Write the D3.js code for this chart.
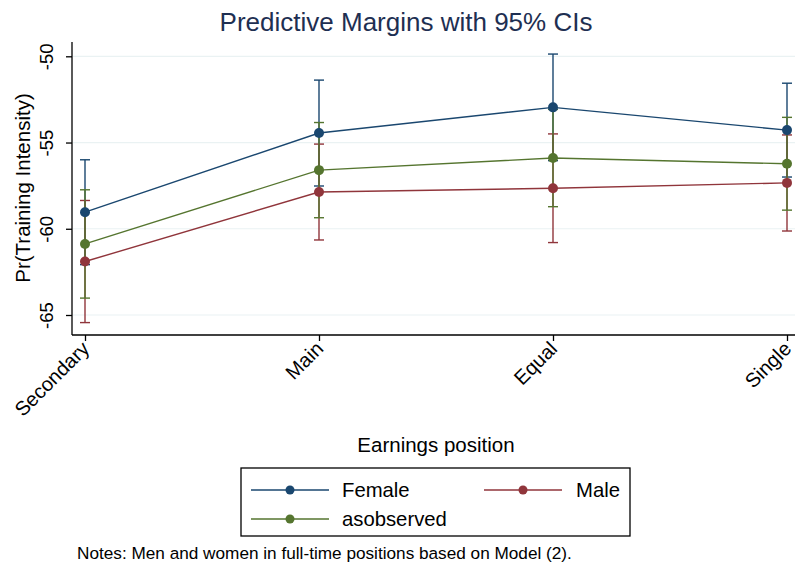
<!DOCTYPE html>
<html>
<head>
<meta charset="utf-8">
<script src="https://cdn.jsdelivr.net/npm/d3@7"></script>
<style>
  body { margin: 0; background: #fff; }
  svg { display: block; }
</style>
</head>
<body>
<script>
// Data.
const categories = ["Secondary", "Main", "Equal", "Single"];
const seriesNames = ["Female", "Male", "asobserved"];
const femaleMean = [-59.04, -54.45, -52.96, -54.28];
const femaleLo = [-62.08, -57.52, -56.05, -57.00];
const femaleHi = [-56.00, -51.38, -49.87, -51.56];
const maleMean = [-61.90, -57.87, -57.65, -57.34];
const maleLo = [-65.44, -60.65, -60.80, -60.13];
const maleHi = [-58.36, -55.09, -54.50, -54.56];
const obsMean = [-60.88, -56.60, -55.90, -56.23];
const obsLo = [-64.02, -59.36, -58.72, -58.92];
const obsHi = [-57.74, -53.84, -53.08, -53.54];
const yTicks = [-65, -60, -55, -50];

const COLORS = { Female: "#1a476f", Male: "#90353b", asobserved: "#55752f" };
const FONT = "'Liberation Sans', Arial, sans-serif";

const series = [
  { name: "Female", mean: femaleMean, lo: femaleLo, hi: femaleHi },
  { name: "Male", mean: maleMean, lo: maleLo, hi: maleHi },
  { name: "asobserved", mean: obsMean, lo: obsLo, hi: obsHi },
];

const width = 795, height = 568;
const svg = d3.select("body").append("svg")
  .attr("width", width).attr("height", height)
  .attr("font-family", FONT);
svg.append("rect").attr("width", width).attr("height", height).attr("fill", "#fff");

// Plot region
const plotLeft = 72, plotBottom = 335, plotTop = 42;
const x = d3.scalePoint().domain(categories).range([85, 787]);
const y = d3.scaleLinear().domain([-65, -50]).range([315, 56.3]);

// Grid lines
svg.append("g").selectAll("line").data(yTicks).join("line")
  .attr("x1", plotLeft + 1).attr("x2", width)
  .attr("y1", d => y(d)).attr("y2", d => y(d))
  .attr("stroke", "#eaf2f3").attr("stroke-width", 1.2);

// Axes
const yAxis = svg.append("g").attr("transform", `translate(${plotLeft},0)`)
  .call(d3.axisLeft(y).tickValues(yTicks).tickSize(6).tickSizeOuter(0));
yAxis.select(".domain").attr("d", `M0,${plotTop}V${plotBottom}`).attr("stroke", "#000").attr("stroke-width", 1.3);
yAxis.selectAll(".tick line").attr("stroke", "#000").attr("stroke-width", 1.3);
yAxis.selectAll(".tick text")
  .attr("font-family", FONT).attr("font-size", 18.5).attr("fill", "#000")
  .attr("transform", "translate(-19,0) rotate(-90)")
  .attr("x", 0).attr("y", 0).attr("dy", 0).attr("text-anchor", "middle")
  .text(d => String(d));

const xAxis = svg.append("g").attr("transform", `translate(0,${plotBottom})`)
  .call(d3.axisBottom(x).tickSize(6).tickSizeOuter(0));
xAxis.select(".domain").attr("d", `M${plotLeft},0H${width}`).attr("stroke", "#000").attr("stroke-width", 1.3);
xAxis.selectAll(".tick line").attr("stroke", "#000").attr("stroke-width", 1.3);
xAxis.selectAll(".tick text")
  .attr("font-family", FONT).attr("font-size", 20).attr("fill", "#000")
  .attr("text-anchor", "end").attr("y", 0).attr("dy", 0)
  .attr("transform", "translate(5,15) rotate(-45)");

// Error bars
const cap = 5;
for (const s of series) {
  const g = svg.append("g").attr("stroke", COLORS[s.name]).attr("stroke-width", 1.4).attr("fill", "none");
  categories.forEach((c, i) => {
    const cx = x(c);
    g.append("line").attr("x1", cx).attr("x2", cx).attr("y1", y(s.lo[i])).attr("y2", y(s.hi[i]));
    g.append("line").attr("x1", cx - cap).attr("x2", cx + cap).attr("y1", y(s.lo[i])).attr("y2", y(s.lo[i]));
    g.append("line").attr("x1", cx - cap).attr("x2", cx + cap).attr("y1", y(s.hi[i])).attr("y2", y(s.hi[i]));
  });
}

// Lines and markers
const line = d3.line().x((d, i) => x(categories[i])).y(d => y(d));
for (const s of series) {
  svg.append("path").datum(s.mean).attr("d", line)
    .attr("fill", "none").attr("stroke", COLORS[s.name]).attr("stroke-width", 1.4);
  svg.append("g").selectAll("circle").data(s.mean).join("circle")
    .attr("cx", (d, i) => x(categories[i])).attr("cy", d => y(d)).attr("r", 5)
    .attr("fill", COLORS[s.name]);
}

// Titles
svg.append("text").attr("x", 406).attr("y", 31).attr("text-anchor", "middle")
  .attr("font-size", 26).attr("fill", "#1e2f52").text("Predictive Margins with 95% CIs");
svg.append("text").attr("transform", "translate(30,188) rotate(-90)").attr("text-anchor", "middle")
  .attr("font-size", 20.5).attr("fill", "#000").text("Pr(Training Intensity)");
svg.append("text").attr("x", 436).attr("y", 452).attr("text-anchor", "middle")
  .attr("font-size", 20.5).attr("fill", "#000").text("Earnings position");

// Legend
const legend = svg.append("g");
legend.append("rect").attr("x", 241).attr("y", 468).attr("width", 389).attr("height", 68)
  .attr("fill", "#fff").attr("stroke", "#000").attr("stroke-width", 1.3);
const legendPos = [
  { name: "Female", lx: 251, ty: 490, tx: 342, anchor: "start" },
  { name: "Male", lx: 484, ty: 490, tx: 620, anchor: "end" },
  { name: "asobserved", lx: 251, ty: 519, tx: 342, anchor: "start" },
];
for (const p of legendPos) {
  legend.append("line").attr("x1", p.lx).attr("x2", p.lx + 78).attr("y1", p.ty).attr("y2", p.ty)
    .attr("stroke", COLORS[p.name]).attr("stroke-width", 1.4);
  legend.append("circle").attr("cx", p.lx + 39).attr("cy", p.ty).attr("r", 4.5).attr("fill", COLORS[p.name]);
  legend.append("text").attr("x", p.tx).attr("y", p.ty).attr("dy", "0.35em").attr("text-anchor", p.anchor)
    .attr("font-size", 20.3).attr("fill", "#000").text(p.name);
}

// Note
svg.append("text").attr("x", 77).attr("y", 559).attr("font-size", 17.2).attr("fill", "#000")
  .text("Notes: Men and women in full-time positions based on Model (2).");
</script>
</body>
</html>
